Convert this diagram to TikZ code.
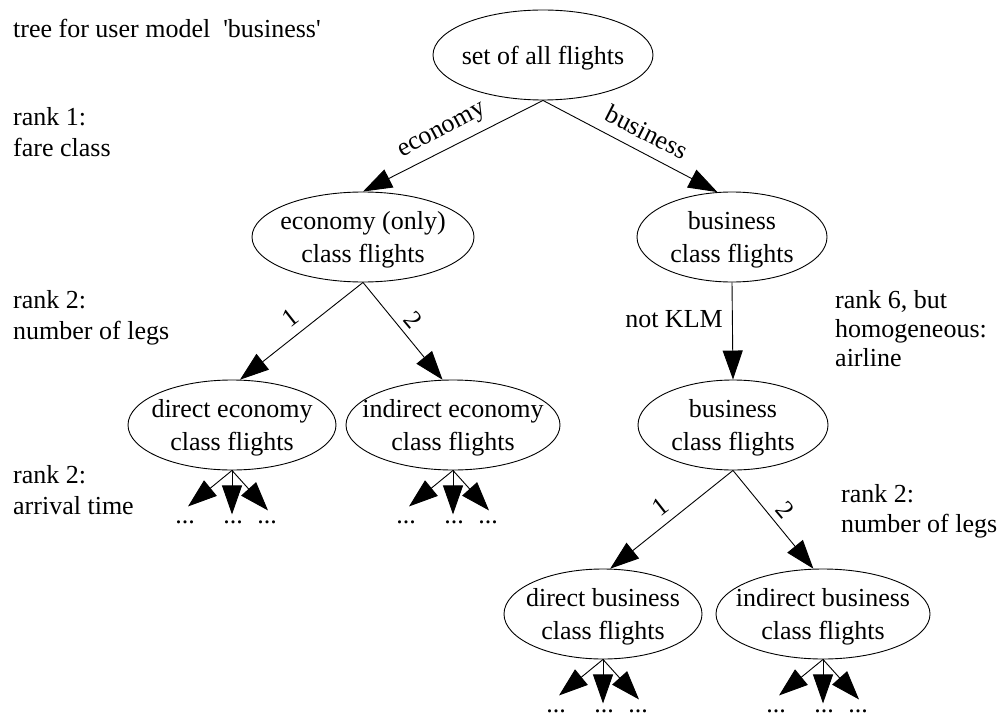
\documentclass[tikz,border=0pt]{standalone}
\usepackage{fontspec}
\setmainfont{Liberation Serif}[Ligatures=TeXOff]
\usetikzlibrary{shapes.geometric,arrows.meta,calc}
\newcommand\fs{\fontsize{26}{32}\selectfont}
\newcommand\fsin{\fontsize{26}{33}\selectfont}
\begin{document}
\begin{tikzpicture}[x=1pt,y=-1pt,
  el/.style={draw, ellipse, line width=0.9pt, inner sep=0pt, minimum height=90pt},
  lbl/.style={align=center, font=\fsin, inner sep=0pt, yshift=-3pt},
  side/.style={anchor=base west, font=\fs, inner sep=0pt},
  elab/.style={font=\fs, inner sep=0pt},
  arr/.style={-{Triangle[length=29pt,width=20pt]}, line width=0.9pt},
  dots/.style={font=\fs, inner sep=0pt}]
\useasboundingbox (0,0) rectangle (1003,722);

% ellipses
\node[el, minimum width=220pt, label={[lbl]center:set of all flights}] (top) at (543,55) {};
\node[el, minimum width=222pt, label={[lbl]center:economy (only)\\class flights}] (eco) at (363,237) {};
\node[el, minimum width=190pt, label={[lbl]center:business\\class flights}] (bus) at (732,237) {};
\node[el, minimum width=208pt, label={[lbl]center:direct economy\\class flights}] (deco) at (232,425) {};
\node[el, minimum width=214pt, label={[lbl]center:indirect economy\\class flights}] (ieco) at (453,425) {};
\node[el, minimum width=190pt, label={[lbl]center:business\\class flights}] (bus2) at (733,425) {};
\node[el, minimum width=198pt, label={[lbl]center:direct business\\class flights}] (dbus) at (603,614) {};
\node[el, minimum width=214pt, label={[lbl]center:indirect business\\class flights}] (ibus) at (823,614) {};

% main edges
\draw[arr] (top.south) -- (eco.north);
\draw[arr] (top.south) -- (bus.108);
\draw[arr] (eco.south) -- (deco.80);
\draw[arr] (eco.south) -- (ieco.103);
\draw[arr] (bus.south) -- (bus2.north);
\draw[arr] (bus2.south) -- (dbus.81);
\draw[arr] (bus2.south) -- (ibus.102);

% edge labels
\node[elab, rotate=28] (leco) at (443,132) {economy};
\node[elab, rotate=-27] (lbus) at (647,132) {business};
\node[elab, rotate=38] (l1a) at (290,318) {1};
\node[elab, rotate=-50] (l2a) at (413,320) {2};
\node[elab] (lklm) at (674,319) {not KLM};
\node[elab, rotate=38] (l1b) at (660,507) {1};
\node[elab, rotate=-50] (l2b) at (785,510) {2};

% leaf fans
\foreach \n in {deco,ieco,dbus,ibus}{
  \coordinate (\n-a) at ($(\n.south)+(-44,36)$);
  \coordinate (\n-b) at ($(\n.south)+(0,44)$);
  \coordinate (\n-c) at ($(\n.south)+(36,40)$);
  \draw[arr] (\n.south) -- (\n-a);
  \draw[arr] (\n.south) -- (\n-b);
  \draw[arr] (\n.south) -- (\n-c);
  \node[dots] (\n-da) at ($(\n.south)+(-47,52)$) {...};
  \node[dots] (\n-db) at ($(\n.south)+(1,52)$) {...};
  \node[dots] (\n-dc) at ($(\n.south)+(35,52)$) {...};
}

% side texts
\node[side] (t0) at (13,38) {tree for user model\ \ 'business'};
\node[side] (r1a) at (13,126) {rank 1:};
\node[side] (r1b) at (13,157) {fare class};
\node[side] (r2a) at (13,308) {rank 2:};
\node[side] (r2b) at (13,339) {number of legs};
\node[side] (r3a) at (13,483) {rank 2:};
\node[side] (r3b) at (13,514) {arrival time};
\node[side] (r6a) at (835,308) {rank 6, but};
\node[side] (r6b) at (835,337) {homogeneous:};
\node[side] (r6c) at (835,366) {airline};
\node[side] (r7a) at (841,502) {rank 2:};
\node[side] (r7b) at (841,532) {number of legs};
\end{tikzpicture}
\end{document}
